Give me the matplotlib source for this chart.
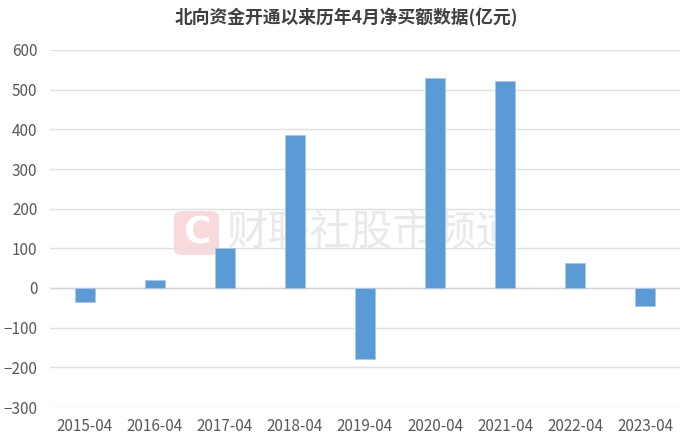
import matplotlib.pyplot as plt
from matplotlib.patches import FancyBboxPatch

plt.rcParams['font.family'] = ['Noto Sans CJK SC', 'DejaVu Sans']

# Data: northbound net buying in April of each year (100 million yuan)
months = ["2015-04", "2016-04", "2017-04", "2018-04", "2019-04",
          "2020-04", "2021-04", "2022-04", "2023-04"]
net_buy = [-36, 20, 101, 385, -180, 530, 523, 62, -46]
y_ticks = [-300, -200, -100, 0, 100, 200, 300, 400, 500, 600]

fig = plt.figure(figsize=(6.92, 4.42), dpi=100)
ax = fig.add_axes([50 / 692, 35 / 442, 630 / 692, 357 / 442])

x = range(len(months))
ax.bar(x, net_buy, width=0.29, color="#5B9BD5", edgecolor="#a9c8ea",
       linewidth=0.6, zorder=3)

ax.set_xlim(-0.5, len(months) - 0.5)
ax.set_ylim(-300, 600)
ax.set_yticks(y_ticks)
ax.set_xticks(list(x))
ax.set_xticklabels(months)
ax.yaxis.grid(True, color="#e0e0e0", linewidth=1, zorder=0)
ax.axhline(0, color="#d4d4d4", linewidth=1, zorder=2)
ax.tick_params(axis="both", length=0, labelsize=11, colors="#595959")
ax.tick_params(axis="y", pad=9)
ax.tick_params(axis="x", pad=8)
for s in ax.spines.values():
    s.set_visible(False)

# watermark, drawn inside the axes below the bars
logo = FancyBboxPatch((174 / 692, 1 - 255 / 442), 45 / 692, 44 / 442,
                      boxstyle="round,pad=0,rounding_size=0.014",
                      transform=fig.transFigure, facecolor="#f9d9dc",
                      edgecolor="none", zorder=1)
ax.add_patch(logo)
ax.text(197 / 692, 1 - 233 / 442, "C", transform=fig.transFigure,
        fontsize=27, fontweight="bold", family="DejaVu Sans",
        color="white", ha="center", va="center", zorder=2)
ax.text(227 / 692, 1 - 233 / 442, "财联社股市频道", transform=fig.transFigure,
        fontsize=30, color="#e9e9e9", ha="left", va="center", zorder=1)

fig.suptitle("北向资金开通以来历年4月净买额数据(亿元)", x=0.5, y=1 - 17 / 442,
             va="center", fontsize=12.8, fontweight="bold", color="#404040")

fig.savefig("out.png", dpi=100)
